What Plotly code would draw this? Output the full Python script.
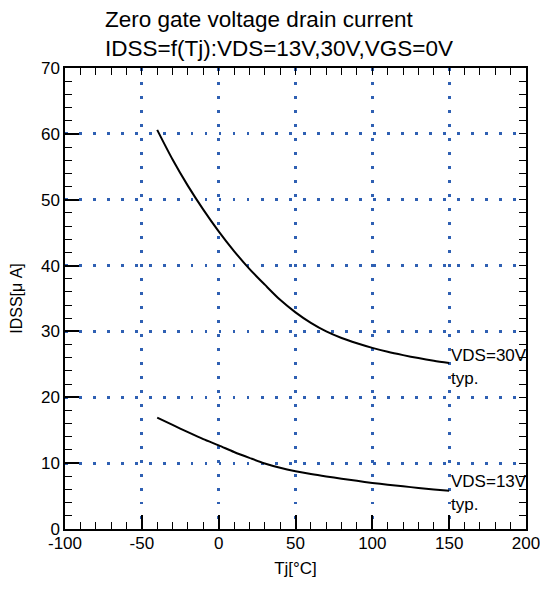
import plotly.graph_objects as go

# Data
tj_30v = [-40, -30, -20, -10, 0, 10, 20, 30, 40, 50, 60, 70, 80, 90, 100, 110, 120, 130, 140, 150]
idss_30v = [60.6, 56.1, 52.1, 48.5, 45.2, 42.2, 39.5, 37.1, 34.8, 32.9, 31.3, 30.0, 29.0, 28.2,
            27.5, 26.9, 26.4, 25.95, 25.55, 25.2]

tj_13v = [-40, -30, -20, -10, 0, 10, 20, 30, 40, 50, 60, 70, 80, 90, 100, 110, 120, 130, 140, 150]
idss_13v = [16.9, 15.8, 14.7, 13.65, 12.7, 11.7, 10.8, 9.95, 9.3, 8.78, 8.35, 7.98, 7.64, 7.31,
            7.0, 6.73, 6.48, 6.24, 6.01, 5.8]

x_ticks = [-100, -50, 0, 50, 100, 150, 200]
x_labels = ["-100", "-50", "0", "50", "100", "150", "200"]
y_ticks = [0, 10, 20, 30, 40, 50, 60, 70]
y_labels = [str(v) for v in y_ticks]

title_lines = ["Zero gate voltage drain current", "IDSS=f(Tj):VDS=13V,30V,VGS=0V"]
curve_labels = [("VDS=30V", "typ."), ("VDS=13V", "typ.")]

FONT = "Liberation Sans, Arial, sans-serif"
GRID = "#2f60b3"
X_RANGE = [-100, 200]
Y_RANGE = [0, 70]

fig = go.Figure()
for xs, ys in [(tj_30v, idss_30v), (tj_13v, idss_13v)]:
    fig.add_trace(go.Scatter(x=xs, y=ys, mode="lines",
                             line=dict(color="black", width=2, shape="spline", smoothing=0.8),
                             showlegend=False, hoverinfo="skip"))

# dummy trace to activate the mirror (top/right) axes
fig.add_trace(go.Scatter(x=[tj_30v[0]], y=[idss_30v[0]], xaxis="x2", yaxis="y2",
                         mode="markers", marker=dict(opacity=0), showlegend=False,
                         hoverinfo="skip"))

for (l1, l2), ys, shifts in [(curve_labels[0], idss_30v, (8, -15)),
                             (curve_labels[1], idss_13v, (9, -14))]:
    for txt, sh in zip((l1, l2), shifts):
        fig.add_annotation(x=tj_30v[-1], y=ys[-1], text=txt, showarrow=False,
                           xanchor="left", yanchor="middle", align="left",
                           xshift=0, yshift=sh,
                           font=dict(family=FONT, size=17, color="black"))

# title lines
for txt, yp in zip(title_lines, [1.1052, 1.0423]):
    fig.add_annotation(xref="paper", yref="paper", x=0.0824, y=yp, text=txt,
                       showarrow=False, xanchor="left", yanchor="middle",
                       font=dict(family=FONT, size=22.5, color="black"))

tickfont = dict(family=FONT, size=17, color="black")

fig.update_layout(
    width=540, height=589,
    margin=dict(l=65, r=14, t=68, b=60, autoexpand=False),
    paper_bgcolor="white", plot_bgcolor="white",
    xaxis=dict(range=X_RANGE, tickvals=x_ticks, ticktext=x_labels, tickfont=tickfont,
               ticklabeloverflow="allow", ticklabelstandoff=-2,
               showline=True, linecolor="black", linewidth=1.5, mirror=True,
               ticks="inside", ticklen=14, tickwidth=1.5, tickcolor="black",
               showgrid=True, gridcolor=GRID, gridwidth=2.5, griddash="2.5px,11.5px",
               zeroline=False, automargin=False,
               minor=dict(dtick=10, ticks="inside", ticklen=7, tickwidth=1.3,
                          tickcolor="black", showgrid=False),
               title=dict(text="Tj[°C]", font=dict(family=FONT, size=17, color="black"),
                          standoff=10)),
    yaxis=dict(range=Y_RANGE, tickvals=y_ticks, ticktext=y_labels, tickfont=tickfont,
               ticklabeloverflow="allow",
               showline=True, linecolor="black", linewidth=1.5, mirror=True,
               ticks="inside", ticklen=14, tickwidth=1.5, tickcolor="black",
               showgrid=True, gridcolor=GRID, gridwidth=2.5, griddash="2.5px,11.5px",
               zeroline=False, automargin=False,
               minor=dict(dtick=2, ticks="inside", ticklen=7, tickwidth=1.3,
                          tickcolor="black", showgrid=False),
               title=dict(text="IDSS[μ A]", font=dict(family=FONT, size=16, color="black"),
                          standoff=14)),
    xaxis2=dict(range=X_RANGE, overlaying="x", side="top", anchor="y2",
                tickvals=x_ticks, showticklabels=False,
                ticks="inside", ticklen=7, tickwidth=1.3, tickcolor="black",
                showgrid=False, zeroline=False, showline=False,
                minor=dict(dtick=10, ticks="inside", ticklen=7, tickwidth=1.3,
                           tickcolor="black", showgrid=False)),
    yaxis2=dict(range=Y_RANGE, overlaying="y", side="right", anchor="x2",
                tickvals=y_ticks, showticklabels=False,
                ticks="inside", ticklen=7, tickwidth=1.3, tickcolor="black",
                showgrid=False, zeroline=False, showline=False,
                minor=dict(dtick=2, ticks="inside", ticklen=7, tickwidth=1.3,
                           tickcolor="black", showgrid=False)),
)

# remove the default 8px page margin so the figure fills the window exactly
fig.write_html("out.html", config={"displayModeBar": False},
               post_script="document.body.style.margin='0';document.body.style.overflow='hidden';")
